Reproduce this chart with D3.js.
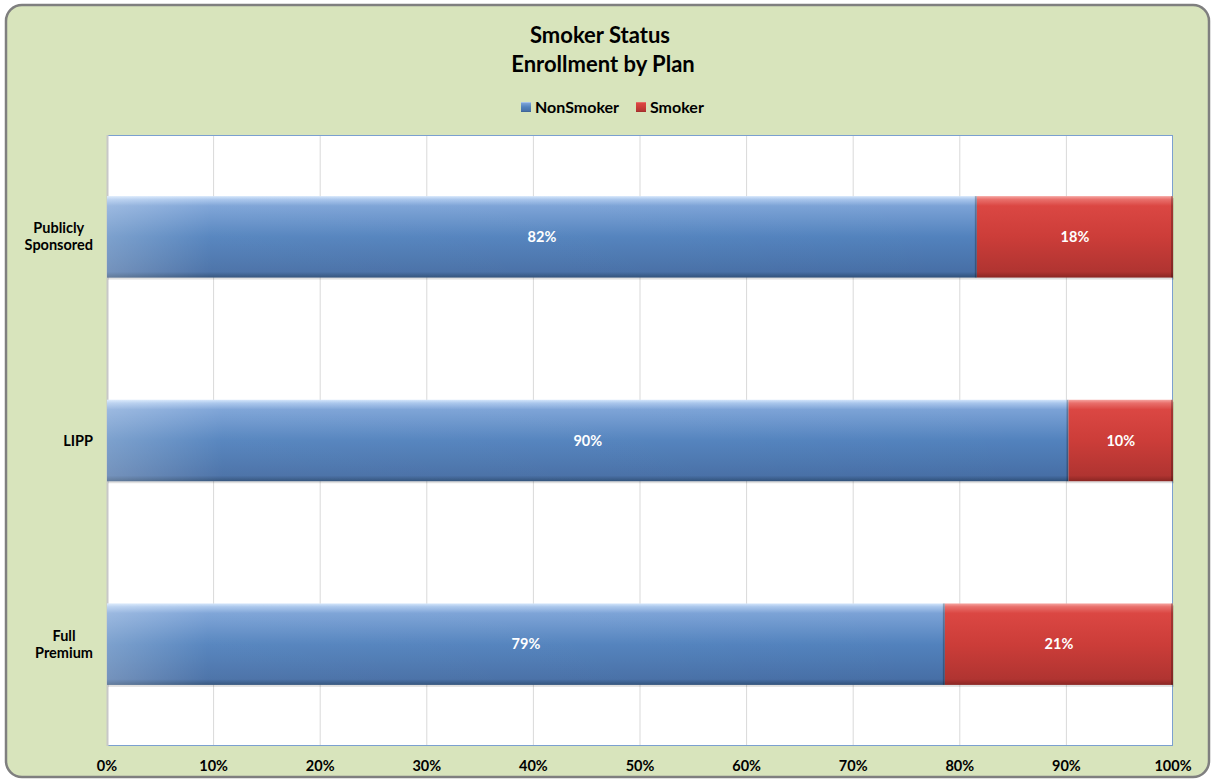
<!DOCTYPE html>
<html>
<head>
<meta charset="utf-8">
<script src="https://cdn.jsdelivr.net/npm/d3@7"></script>
<style>
  body { margin: 0; background: #fff; }
  svg { display: block; font-family: Lato, "Open Sans", sans-serif; }
</style>
</head>
<body>
<svg id="chart" width="1214" height="783"></svg>
<script>
// Smoker status by plan
const categories = ['Publicly Sponsored', 'LIPP', 'Full Premium'];
const nonSmoker = [0.816, 0.902, 0.786];
const smoker = [0.184, 0.098, 0.214];
const seriesNames = ['NonSmoker', 'Smoker'];
const xTicks = [0, 0.1, 0.2, 0.3, 0.4, 0.5, 0.6, 0.7, 0.8, 0.9, 1.0];

const svg = d3.select('#chart');
const defs = svg.append('defs');

// bar gradients (excel-ish bevel look)
const blueGrad = defs.append('linearGradient').attr('id', 'blueGrad')
    .attr('x1', 0).attr('y1', 0).attr('x2', 0).attr('y2', 1);
blueGrad.append('stop').attr('offset', '0%').attr('stop-color', '#d4e6fb');
blueGrad.append('stop').attr('offset', '4%').attr('stop-color', '#a9c6ec');
blueGrad.append('stop').attr('offset', '12%').attr('stop-color', '#7ba2d6');
blueGrad.append('stop').attr('offset', '50%').attr('stop-color', '#5282bd');
blueGrad.append('stop').attr('offset', '93%').attr('stop-color', '#476fa6');
blueGrad.append('stop').attr('offset', '100%').attr('stop-color', '#2f5079');

const blueSheen = defs.append('linearGradient').attr('id', 'blueSheen')
    .attr('x1', 0).attr('y1', 0).attr('x2', 1).attr('y2', 0);
blueSheen.append('stop').attr('offset', '0%').attr('stop-color', '#ffffff').attr('stop-opacity', 0.25);
blueSheen.append('stop').attr('offset', '12%').attr('stop-color', '#ffffff').attr('stop-opacity', 0.04);
blueSheen.append('stop').attr('offset', '100%').attr('stop-color', '#ffffff').attr('stop-opacity', 0);

const redGrad = defs.append('linearGradient').attr('id', 'redGrad')
    .attr('x1', 0).attr('y1', 0).attr('x2', 0).attr('y2', 1);
redGrad.append('stop').attr('offset', '0%').attr('stop-color', '#f6a6a2');
redGrad.append('stop').attr('offset', '4%').attr('stop-color', '#e9706c');
redGrad.append('stop').attr('offset', '12%').attr('stop-color', '#db4743');
redGrad.append('stop').attr('offset', '50%').attr('stop-color', '#cc3d39');
redGrad.append('stop').attr('offset', '93%').attr('stop-color', '#b03431');
redGrad.append('stop').attr('offset', '100%').attr('stop-color', '#8a2623');

const fills = ['url(#blueGrad)', 'url(#redGrad)'];

// chart frame
svg.append('rect')
    .attr('x', 6).attr('y', 5).attr('width', 1203).attr('height', 772)
    .attr('rx', 16).attr('ry', 16)
    .attr('fill', '#d8e4bc')
    .attr('stroke', '#7f7f7f').attr('stroke-width', 2.5);

// titles
svg.append('text').attr('x', 600).attr('y', 43)
    .attr('text-anchor', 'middle').attr('font-size', 22).attr('font-weight', 'bold')
    .attr('fill', '#000').text('Smoker Status');
svg.append('text').attr('x', 603).attr('y', 72)
    .attr('text-anchor', 'middle').attr('font-size', 22).attr('font-weight', 'bold')
    .attr('fill', '#000').text('Enrollment by Plan');

// legend
const legend = svg.append('g').attr('transform', 'translate(521,107)');
const legendX = [0, 115];
seriesNames.forEach((name, i) => {
    const g = legend.append('g').attr('transform', `translate(${legendX[i]},0)`);
    g.append('rect').attr('x', 0).attr('y', -5).attr('width', 10).attr('height', 10)
        .attr('fill', fills[i]);
    g.append('text').attr('x', 14).attr('y', 0).attr('dy', '0.35em')
        .attr('font-size', 16).attr('font-weight', 'bold').text(name);
});

// plot area
const margin = { left: 107, right: 1173, top: 135, bottom: 746 };
const x = d3.scaleLinear().domain([0, 1]).range([margin.left, margin.right]);
const y = d3.scaleBand().domain(categories).range([margin.top, margin.bottom]).paddingInner(0.6).paddingOuter(0.3);

svg.append('rect')
    .attr('x', margin.left).attr('y', margin.top)
    .attr('width', margin.right - margin.left).attr('height', margin.bottom - margin.top)
    .attr('fill', '#fff');

// gridlines
svg.append('g').selectAll('line')
    .data(xTicks.slice(1, -1))
    .enter().append('line')
    .attr('x1', d => x(d)).attr('x2', d => x(d))
    .attr('y1', margin.top).attr('y2', margin.bottom)
    .attr('stroke', '#d9d9d9').attr('stroke-width', 1);

// plot border
svg.append('rect')
    .attr('x', margin.left + 0.5).attr('y', margin.top + 0.5)
    .attr('width', margin.right - margin.left - 1).attr('height', margin.bottom - margin.top - 1)
    .attr('fill', 'none').attr('stroke', '#7ba0d0').attr('stroke-width', 1);
svg.append('line')
    .attr('x1', margin.left + 0.5).attr('x2', margin.left + 0.5)
    .attr('y1', margin.top).attr('y2', margin.bottom)
    .attr('stroke', '#c8c8c8').attr('stroke-width', 2);

// stacked data
const rows = categories.map((c, i) => ({ cat: c, vals: [nonSmoker[i], smoker[i]] }));
const segs = [];
rows.forEach(r => {
    let acc = 0;
    r.vals.forEach((v, k) => {
        segs.push({ cat: r.cat, k: k, x0: acc, x1: acc + v, v: v });
        acc += v;
    });
});

const barG = svg.append('g');
const seg = barG.selectAll('g').data(segs).enter().append('g');

// drop shadow
seg.append('rect')
    .attr('x', d => x(d.x0) + 1).attr('y', d => y(d.cat) + 2)
    .attr('width', d => x(d.x1) - x(d.x0)).attr('height', y.bandwidth())
    .attr('fill', '#000').attr('opacity', 0.12);

seg.append('rect')
    .attr('x', d => x(d.x0)).attr('y', d => y(d.cat))
    .attr('width', d => x(d.x1) - x(d.x0)).attr('height', y.bandwidth())
    .attr('fill', d => fills[d.k]);

seg.filter(d => d.k === 0).append('rect')
    .attr('x', d => x(d.x0)).attr('y', d => y(d.cat))
    .attr('width', d => x(d.x1) - x(d.x0)).attr('height', y.bandwidth())
    .attr('fill', 'url(#blueSheen)');

// bevel edges
seg.append('rect')
    .attr('x', d => x(d.x1) - 2).attr('y', d => y(d.cat))
    .attr('width', 2).attr('height', y.bandwidth())
    .attr('fill', '#000').attr('opacity', 0.25);

// value labels
seg.append('text')
    .attr('x', d => (x(d.x0) + x(d.x1)) / 2)
    .attr('y', d => y(d.cat) + y.bandwidth() / 2)
    .attr('dy', '0.35em')
    .attr('text-anchor', 'middle')
    .attr('font-size', 14.5).attr('font-weight', 'bold')
    .attr('fill', '#fff')
    .text(d => d3.format('.0%')(d.v));

// x axis labels
svg.append('g').selectAll('text')
    .data(xTicks)
    .enter().append('text')
    .attr('x', d => x(d)).attr('y', 771)
    .attr('text-anchor', 'middle')
    .attr('font-size', 14.5).attr('font-weight', 'bold')
    .text(d3.format('.0%'));

// category labels, right aligned block with centred lines
const catG = svg.append('g');
categories.forEach(c => {
    const words = c.split(' ');
    const g = catG.append('g');
    const cy = y(c) + y.bandwidth() / 2;
    const lh = 17;
    const texts = words.map((w, i) => g.append('text')
        .attr('y', cy + (i - (words.length - 1) / 2) * lh)
        .attr('dy', '0.35em')
        .attr('text-anchor', 'middle')
        .attr('font-size', 14.5).attr('font-weight', 'bold')
        .text(w));
    const maxW = d3.max(texts, t => t.node().getComputedTextLength());
    texts.forEach(t => t.attr('x', 93 - maxW / 2));
});
</script>
</body>
</html>
